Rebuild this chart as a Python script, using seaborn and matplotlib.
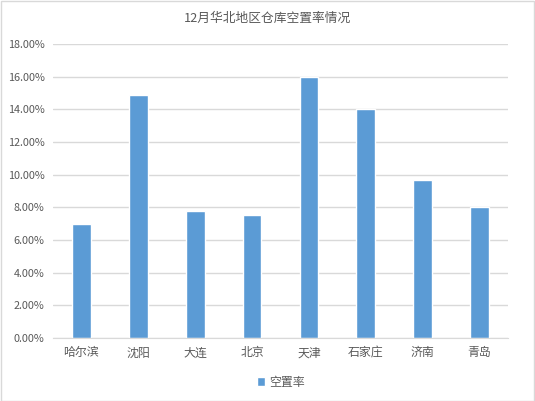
import matplotlib
matplotlib.use("Agg")
import matplotlib.pyplot as plt
import seaborn as sns
import pandas as pd
from matplotlib.ticker import PercentFormatter
from matplotlib.patches import Rectangle

# data
cities = ["哈尔滨", "沈阳", "大连", "北京", "天津", "石家庄", "济南", "青岛"]
vacancy = [6.95, 14.85, 7.75, 7.55, 15.95, 14.0, 9.65, 8.0]
title = "12月华北地区仓库空置率情况"
series_name = "空置率"

df = pd.DataFrame({"city": cities, "rate": vacancy})

sns.set_style("white")
plt.rcParams["font.family"] = ["Noto Sans CJK SC", "DejaVu Sans"]

text_color = "#595959"
bar_color = "#5B9BD5"
grid_color = "#D9D9D9"

fig = plt.figure(figsize=(5.35, 4.01), dpi=100)
ax = fig.add_axes([53 / 535, (401 - 338) / 401, 455 / 535, 294 / 401])

sns.barplot(data=df, x="city", y="rate", color=bar_color, width=0.33,
            saturation=1, ax=ax, label=series_name)

ax.set_ylim(0, 18)
ax.set_yticks(range(0, 19, 2))
ax.yaxis.set_major_formatter(PercentFormatter(decimals=2))
ax.yaxis.grid(True, color=grid_color, linewidth=1)
ax.set_axisbelow(True)
for side in ["top", "right", "left"]:
    ax.spines[side].set_visible(False)
ax.spines["bottom"].set_color(grid_color)
ax.tick_params(axis="both", length=0, colors=text_color)
ax.tick_params(axis="y", labelsize=7.8, pad=6)
ax.tick_params(axis="x", labelsize=8.6, pad=6)
ax.set_xlabel("")
ax.set_ylabel("")

fig.text(0.5, 1 - 18 / 401, title, ha="center", va="center",
         fontsize=9.2, color=text_color)

leg = ax.legend(loc="center", bbox_to_anchor=(0.5, -0.15), frameon=False,
                fontsize=8.6, handlelength=0.7, handleheight=0.7,
                handletextpad=0.3, labelcolor=text_color)

fig.patches.append(Rectangle((0.5 / 535, 0.5 / 401), 1 - 1.5 / 535, 1 - 1.5 / 401,
                             transform=fig.transFigure, fill=False,
                             edgecolor=grid_color, linewidth=1))

fig.savefig("out.png", dpi=100)
